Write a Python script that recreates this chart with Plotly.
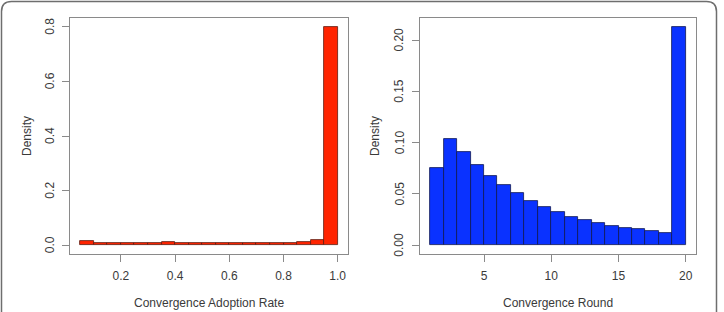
import plotly.graph_objects as go

# Left histogram: Convergence Adoption Rate (bins of width 0.05 from 0.05 to 1.0)
rate_bin_left = [0.05, 0.10, 0.15, 0.20, 0.25, 0.30, 0.35, 0.40, 0.45, 0.50,
                 0.55, 0.60, 0.65, 0.70, 0.75, 0.80, 0.85, 0.90, 0.95]
rate_bin_width = 0.05
rate_density = [0.014, 0.007, 0.008, 0.009, 0.010, 0.010, 0.011, 0.010, 0.009, 0.008,
                0.008, 0.008, 0.008, 0.008, 0.008, 0.009, 0.013, 0.020, 0.800]
rate_ticks = [0.2, 0.4, 0.6, 0.8, 1.0]
rate_ticktext = ["0.2", "0.4", "0.6", "0.8", "1.0"]
rate_yticks = [0.0, 0.2, 0.4, 0.6, 0.8]
rate_yticktext = ["0.0", "0.2", "0.4", "0.6", "0.8"]

# Right histogram: Convergence Round (bins of width 1 from 1 to 20)
round_bin_left = list(range(1, 20))
round_bin_width = 1
round_density = [0.0758, 0.1033, 0.0905, 0.0781, 0.0680, 0.0585, 0.0507, 0.0431,
                 0.0369, 0.0320, 0.0275, 0.0242, 0.0219, 0.0190, 0.0170, 0.0154,
                 0.0140, 0.0124, 0.2130]
round_ticks = [5, 10, 15, 20]
round_yticks = [0.00, 0.05, 0.10, 0.15, 0.20]
round_yticktext = ["0.00", "0.05", "0.10", "0.15", "0.20"]

W, H = 724, 312
font_family = "Liberation Sans, Arial, sans-serif"
text_color = "#3a3a3a"
axis_color = "#8a8a8a"

fig = go.Figure()
fig.add_trace(go.Bar(
    x=[b + rate_bin_width / 2 for b in rate_bin_left], y=rate_density,
    width=rate_bin_width, marker=dict(color="#ff2400", line=dict(color="#5a1a10", width=0.8)),
    xaxis="x", yaxis="y", showlegend=False, hoverinfo="skip"))
fig.add_trace(go.Bar(
    x=[b + round_bin_width / 2 for b in round_bin_left], y=round_density,
    width=round_bin_width, marker=dict(color="#0a32ff", line=dict(color="#101850", width=0.8)),
    xaxis="x2", yaxis="y2", showlegend=False, hoverinfo="skip"))

def px_x(p):
    return p / W

def px_y(p):
    return 1 - p / H

common_axis = dict(
    showline=True, mirror=True, linecolor=axis_color, linewidth=1,
    ticks="outside", ticklen=7, tickcolor=axis_color, tickwidth=1,
    showgrid=False, zeroline=False, automargin=False,
    tickfont=dict(family=font_family, size=12, color=text_color),
)

fig.update_layout(
    template="none",
    width=W, height=H, margin=dict(l=0, r=0, t=0, b=0, autoexpand=False),
    paper_bgcolor="white", plot_bgcolor="white", bargap=0,
    xaxis=dict(domain=[px_x(70), px_x(348)], range=[0.012, 1.038],
               tickvals=rate_ticks, ticktext=rate_ticktext, anchor="y",
               ticklabelstandoff=4, **common_axis),
    yaxis=dict(domain=[px_y(254), px_y(18)], range=[-0.032, 0.832],
               tickvals=rate_yticks, showticklabels=False, anchor="x", **common_axis),
    xaxis2=dict(domain=[px_x(420), px_x(696)], range=[0.24, 20.76],
                tickvals=round_ticks, anchor="y2", ticklabelstandoff=4, **common_axis),
    yaxis2=dict(domain=[px_y(254), px_y(18)], range=[-0.0085, 0.2215],
                tickvals=round_yticks, showticklabels=False, anchor="x2", **common_axis),
)

ann_font = dict(family=font_family, size=12, color=text_color)
# y tick labels, rotated like R's default axis labels
for yref, xc, vals, texts in [("y", 50, rate_yticks, rate_yticktext),
                              ("y2", 399.5, round_yticks, round_yticktext)]:
    for v, t in zip(vals, texts):
        fig.add_annotation(x=px_x(xc), y=v, xref="paper", yref=yref,
                           xanchor="center", yanchor="middle", textangle=-90,
                           text=t, showarrow=False, font=ann_font)

for (xc, yc, txt, ang) in [(209, 303, "Convergence Adoption Rate", 0),
                           (27, 136, "Density", -90),
                           (558, 303, "Convergence Round", 0),
                           (375, 136, "Density", -90)]:
    fig.add_annotation(x=px_x(xc), y=px_y(yc), xref="paper", yref="paper",
                       xanchor="center", yanchor="middle",
                       text=txt, showarrow=False, textangle=ang, font=ann_font)

# outer rounded frame
r = 10
x0, y0, x1, y1 = 1.5, 1.5, 716.5, 330
path = (f"M {x0},{y1} L {x0},{y0 + r} Q {x0},{y0} {x0 + r},{y0} "
        f"L {x1 - r},{y0} Q {x1},{y0} {x1},{y0 + r} L {x1},{y1}")
def conv_path(path):
    out = []
    for tok in path.split():
        if "," in tok:
            a, b = tok.split(",")
            out.append(f"{float(a) / W:.5f},{1 - float(b) / H:.5f}")
        else:
            out.append(tok)
    return " ".join(out)
fig.add_shape(type="path", xref="paper", yref="paper", path=conv_path(path),
              line=dict(color="#6e6e6e", width=1.5))

fig.write_html("out.html")
